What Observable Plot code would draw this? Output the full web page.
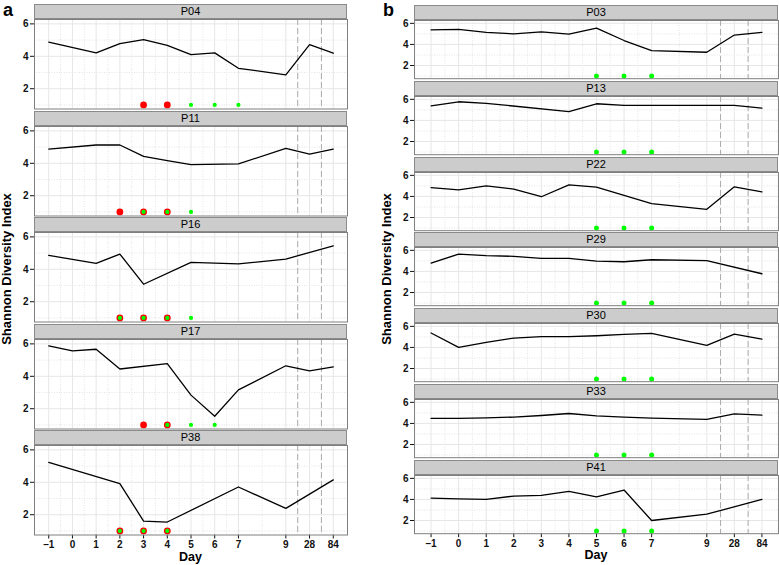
<!DOCTYPE html>
<html><head><meta charset="utf-8">
<script src="https://cdn.jsdelivr.net/npm/d3@7"></script>
<script src="https://cdn.jsdelivr.net/npm/@observablehq/plot@0.6"></script>
<style>
body{margin:0;background:#fff;font-family:"Liberation Sans",Arial,sans-serif;}
#fig{position:relative;width:779px;height:565px;overflow:hidden;background:#fff;}
.strip{position:absolute;box-sizing:border-box;background:#cccccc;border:1px solid #8a8a8a;font-weight:normal;font-size:11px;text-align:center;color:#000;line-height:13px;}
.abs{position:absolute;font-weight:bold;color:#000;white-space:nowrap;}
.plot{position:absolute;}
</style></head><body><div id="fig"></div>
<script>
// ---- data ----
const days = [-1, 0, 1, 2, 3, 4, 5, 6, 7, 9, 28, 84];
const dayLabels = ["\u20131", "0", "1", "2", "3", "4", "5", "6", "7", "9", "28", "84"];

// Panel a: Shannon diversity per day (null = no sample)
const P04 = [4.88, null, 4.21, 4.78, 5.03, 4.67, 4.10, 4.21, 3.26, 2.86, 4.72, 4.19];
const P11 = [4.88, null, 5.13, 5.13, 4.43, 4.16, 3.92, null, 3.96, 4.92, 4.57, 4.88];
const P16 = [4.86, null, 4.37, 4.94, 3.08, null, 4.43, null, 4.33, 4.63, null, 5.45];
const P17 = [5.88, 5.57, 5.67, 4.45, null, 4.78, 2.84, 1.54, 3.16, 4.65, 4.33, 4.58];
const P38 = [5.23, null, null, 3.92, 1.61, 1.55, null, null, 3.71, 2.39, null, 4.15];

// Panel b
const P03 = [5.38, 5.43, 5.15, 5.00, 5.20, 4.98, 5.55, 4.37, 3.42, 3.26, 4.89, 5.15];
const P13 = [5.39, 5.77, 5.62, null, null, 4.84, 5.58, 5.42, 5.42, 5.42, 5.42, 5.16];
const P22 = [4.84, 4.63, 5.00, 4.69, 3.97, 5.09, 4.88, 4.10, 3.31, 2.78, 4.91, 4.44];
const P29 = [4.79, 5.65, 5.49, 5.43, 5.24, 5.24, 4.98, 4.92, 5.11, 5.02, null, 3.78];
const P30 = [5.37, 4.00, 4.48, 4.89, 5.02, 5.02, 5.11, 5.24, 5.33, 4.19, 5.27, 4.79];
const P33 = [4.47, 4.47, 4.53, 4.60, 4.75, 4.94, 4.72, 4.60, 4.50, 4.38, 4.91, 4.78];
const P41 = [4.13, 4.06, 4.00, 4.32, 4.38, 4.76, 4.25, 4.89, 2.00, 2.60, null, 4.00];

// Marker days (red = first marker, green = second marker)
const redDays = {P04: [3, 4], P11: [2, 3, 4], P16: [2, 3, 4], P17: [3, 4], P38: [2, 3, 4],
  P03: [], P13: [], P22: [], P29: [], P30: [], P33: [], P41: []};
const greenDays = {P04: [5, 6, 7], P11: [3, 4, 5], P16: [2, 3, 4, 5], P17: [4, 5, 6], P38: [2, 3, 4],
  P03: [5, 6, 7], P13: [5, 6, 7], P22: [5, 6, 7], P29: [5, 6, 7], P30: [5, 6, 7], P33: [5, 6, 7], P41: [5, 6, 7]};
const markerLevel = 1;
const breakDays = [[9, 28], [28, 84]]; // discontinuities drawn as dashed lines between these days

const yTicks = [2, 4, 6];
const yTitle = "Shannon Diversity Index";
const xTitle = "Day";

const panelA = [["P04", P04], ["P11", P11], ["P16", P16], ["P17", P17], ["P38", P38]];
const panelB = [["P03", P03], ["P13", P13], ["P22", P22], ["P29", P29], ["P30", P30], ["P33", P33], ["P41", P41]];

// ---- drawing ----
// day position: days after 7 are compressed (9, 28, 84 placed one slot apart)
const posOf = d => { const i = days.indexOf(d); return i <= 8 ? d : 9 + (i - 9); };
const tickPos = days.map(posOf);
const labelOf = p => dayLabels[tickPos.indexOf(p)];
const minorX = d3.pairs(tickPos).map(([a, b]) => (a + b) / 2);
const minorY = d3.pairs([0, ...yTicks]).map(([a, b]) => (a + b) / 2);
const breakPos = breakDays.map(([a, b]) => (posOf(a) + posOf(b)) / 2);

const fig = document.getElementById("fig");
const FONT = "'Liberation Sans', Arial, Helvetica, sans-serif";

function addDiv(cls, text, css) {
  const d = document.createElement("div");
  d.className = cls; d.textContent = text;
  Object.assign(d.style, css);
  fig.appendChild(d);
  return d;
}

function column(list, o) {
  list.forEach(([name, vals], i) => {
    const last = i === list.length - 1;
    const stripTop = o.top + i * o.step;
    addDiv("strip", name, {left: (o.left + 34) + "px", top: stripTop + "px",
      width: (o.width - 35) + "px", height: o.stripH + "px"});
    const series = days.map((d, k) => ({x: posOf(d), y: vals[k]})).filter(r => r.y != null);
    const reds = redDays[name].map(d => ({x: posOf(d), y: markerLevel}));
    const greens = greenDays[name].map(d => ({x: posOf(d), y: markerLevel}));
    const mb = last ? 20 : 1;
    const svg = Plot.plot({
      width: o.width, height: o.panelH + 1 + mb,
      marginLeft: 34, marginRight: 1, marginTop: 1, marginBottom: mb,
      style: {fontFamily: FONT, fontSize: "10px", fontWeight: "bold", color: "#111", background: "transparent", overflow: "visible"},
      x: {domain: [-1.6, 11.6], ticks: tickPos, tickFormat: labelOf, tickSize: 4, tickPadding: 2,
          axis: last ? "bottom" : null, label: null},
      y: {domain: [0.75, 6.27], ticks: yTicks, tickFormat: d => String(d), tickSize: 4, tickPadding: 2, label: null},
      marks: [
        Plot.ruleX(minorX, {stroke: "#e4e4e4", strokeDasharray: "1,1.5"}),
        Plot.ruleY(minorY, {stroke: "#e4e4e4", strokeDasharray: "1,1.5"}),
        Plot.ruleX(tickPos, {stroke: "#e6e6e6"}),
        Plot.ruleY(yTicks, {stroke: "#e6e6e6"}),
        Plot.ruleX(breakPos, {stroke: "#ababab", strokeDasharray: "6,3"}),
        Plot.line(series, {x: "x", y: "y", stroke: "#000", strokeWidth: 1.3}),
        Plot.dot(reds, {x: "x", y: "y", r: 3.4, fill: "#ff0000", stroke: "none"}),
        Plot.dot(greens, {x: "x", y: "y", r: o.greenR, fill: "#00ff00", stroke: "none"}),
        Plot.frame({stroke: "#7f7f7f"})
      ]
    });
    svg.classList.add("plot");
    svg.style.left = o.left + "px";
    svg.style.top = (stripTop + o.stripH - 1) + "px";
    fig.appendChild(svg);
  });
  const bottom = o.top + (list.length - 1) * o.step + o.stripH + o.panelH;
  const midY = (o.top + bottom) / 2;
  addDiv("abs", yTitle, {fontSize: "13px", left: (o.left + o.titleX - 100) + "px", top: (midY - 8) + "px",
    width: "200px", textAlign: "center", transform: "rotate(-90deg)", lineHeight: "16px"});
  addDiv("abs", xTitle, {fontSize: "12.5px", left: (o.left + 34 + (o.width - 35) / 2 - 40) + "px", top: (bottom + 15) + "px",
    width: "80px", textAlign: "center"});
  addDiv("abs", o.letter, {fontSize: "18px", lineHeight: "21px", left: (o.left + o.letterX) + "px", top: "0px"});
}

column(panelA, {left: 0, width: 348, top: 4, step: 106.5, stripH: 15, panelH: 89.5, greenR: 2.1, titleX: 7, letter: "a", letterX: 3});
column(panelB, {left: 380, width: 399, top: 5, step: 75.8, stripH: 15, panelH: 58.2, greenR: 2.5, titleX: 7, letter: "b", letterX: 3});
</script>
</body></html>
